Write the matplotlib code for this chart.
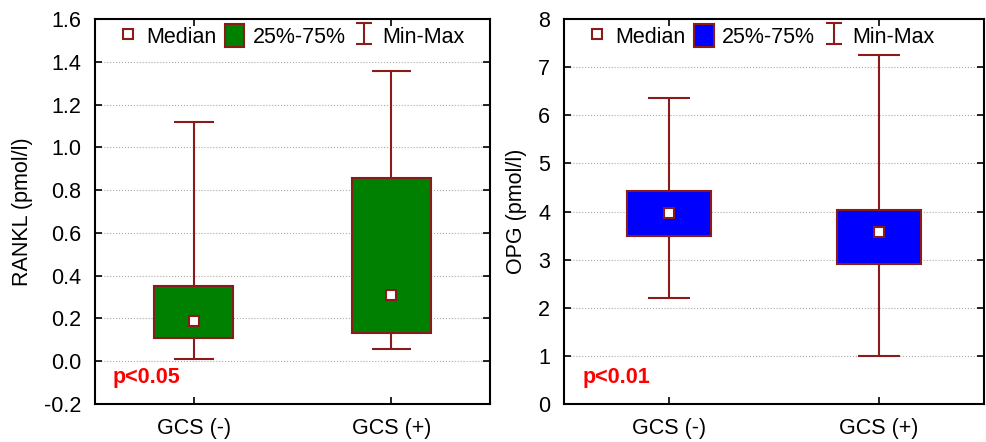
import matplotlib
matplotlib.use("Agg")
import numpy as np
import matplotlib.pyplot as plt
from matplotlib.patches import Rectangle
from matplotlib.lines import Line2D

plt.rcParams['font.family'] = ['Liberation Sans', 'DejaVu Sans']

groups = ["GCS (-)", "GCS (+)"]

# RANKL (pmol/l)
rankl_min = [0.01, 0.055]
rankl_q1 = [0.11, 0.13]
rankl_med = [0.19, 0.31]
rankl_q3 = [0.35, 0.855]
rankl_max = [1.12, 1.355]

# OPG (pmol/l)
opg_min = [2.2, 1.0]
opg_q1 = [3.5, 2.9]
opg_med = [3.97, 3.57]
opg_q3 = [4.43, 4.03]
opg_max = [6.35, 7.25]

EDGE = "#8b1a1a"
FS = 15.5


def boxpanel(ax, vmin, q1, med, q3, vmax, fill, ylim, yticks, ylabel, ptext):
    pos = [1, 2]
    # whiskers + caps
    ax.vlines(pos, vmin, vmax, color=EDGE, linewidth=1.5, zorder=2)
    for x in pos:
        ax.hlines([vmin[x - 1], vmax[x - 1]], x - 0.1, x + 0.1, color=EDGE,
                  linewidth=1.5, zorder=2)
    for x, a, b in zip(pos, q1, q3):
        ax.add_patch(Rectangle((x - 0.2, a), 0.4, b - a, facecolor=fill,
                               edgecolor=EDGE, linewidth=1.5, zorder=3))
    ax.plot(pos, med, linestyle='none', marker='s', markersize=7.5,
            markerfacecolor='white', markeredgecolor=EDGE, markeredgewidth=1.5, zorder=4)

    ax.set_xlim(0.5, 2.5)
    ax.set_ylim(*ylim)
    ax.set_yticks(yticks)
    ax.set_xticks(pos)
    ax.set_xticklabels(groups)
    ax.set_ylabel(ylabel, fontsize=FS, labelpad=8)
    ax.tick_params(direction='in', length=5, width=1.2, labelsize=FS,
                   top=True, right=True)
    ax.tick_params(axis='x', pad=10)
    ax.tick_params(axis='y', pad=10)
    for s in ax.spines.values():
        s.set_linewidth(1.5)
    ax.yaxis.grid(True, linestyle=':', color='#aaaaaa', linewidth=0.8)
    ax.set_axisbelow(True)

    # legend handles (dummy errorbar just for the Min-Max symbol)
    eb = ax.errorbar([np.nan], [np.nan], yerr=[1], fmt='none', ecolor=EDGE,
                     elinewidth=1.5, capsize=6, capthick=1.5)
    h_med = Line2D([], [], linestyle='none', marker='s', markersize=7,
                   markerfacecolor='white', markeredgecolor=EDGE, markeredgewidth=1.5)
    h_box = Rectangle((0, 0), 1, 1, facecolor=fill, edgecolor=EDGE, linewidth=1.5)
    ax.legend([h_med, h_box, eb], ["Median", "25%-75%", "Min-Max"], ncol=3,
              loc='upper left', bbox_to_anchor=(0.02, 1.025), frameon=False,
              fontsize=FS, handlelength=0.9, handletextpad=0.4,
              columnspacing=0.4, borderaxespad=0.3, handleheight=1.2)

    ax.text(0.045, 0.07, ptext, transform=ax.transAxes, color='red',
            fontsize=FS, fontweight='bold', va='center')


fig = plt.figure(figsize=(9.86, 4.42), dpi=100)
ax1 = fig.add_axes([95 / 986, 38 / 442, 395 / 986, 385 / 442])
ax2 = fig.add_axes([564 / 986, 38 / 442, 420 / 986, 385 / 442])

boxpanel(ax1, rankl_min, rankl_q1, rankl_med, rankl_q3, rankl_max, '#008000',
         (-0.2, 1.6), [-0.2, 0.0, 0.2, 0.4, 0.6, 0.8, 1.0, 1.2, 1.4, 1.6],
         "RANKL (pmol/l)", "p<0.05")
ax1.set_yticklabels(["-0.2", "0.0", "0.2", "0.4", "0.6", "0.8", "1.0", "1.2", "1.4", "1.6"])
boxpanel(ax2, opg_min, opg_q1, opg_med, opg_q3, opg_max, '#0000ff',
         (0, 8), list(range(0, 9)), "OPG (pmol/l)", "p<0.01")

fig.savefig("out.png", dpi=100)
